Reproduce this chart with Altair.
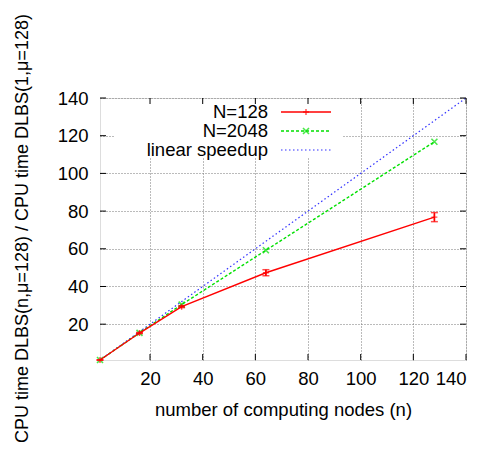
import altair as alt
import pandas as pd

# data
nodes = [1, 16, 32, 64, 128]
speedup_128 = [1, 15.3, 29.3, 47.3, 76.8]
err_128 = [0.0, 0.3, 0.5, 1.6, 2.4]
speedup_2048 = [1, 15.4, 30.4, 59.2, 116.8]
linear_x = [1, 140]
linear_y = [1, 140]
tick_vals = [20, 40, 60, 80, 100, 120, 140]

legend_labels = ["N=128", "N=2048", "linear speedup"]
legend_colors = ["#ff0000", "#00e000", "#3030ff"]

W, H = 366, 262
FONT = "Liberation Sans"
FS = 18.5

df128 = pd.DataFrame({"n": nodes, "s": speedup_128, "lo": [s - e for s, e in zip(speedup_128, err_128)],
                      "hi": [s + e for s, e in zip(speedup_128, err_128)]})
df2048 = pd.DataFrame({"n": nodes, "s": speedup_2048})
dflin = pd.DataFrame({"n": linear_x, "s": linear_y})
dft = pd.DataFrame({"v": tick_vals})

xs = alt.Scale(domain=[1, 140], nice=False, zero=False)
ys = alt.Scale(domain=[1, 140], nice=False, zero=False)

xax = alt.Axis(values=tick_vals, grid=True, gridColor="#777777", gridDash=[1, 2], gridWidth=1,
               tickSize=0, domain=False, labelFont=FONT, labelFontSize=FS, labelColor="black",
               labelPadding=9, title="number of computing nodes (n)", titleFont=FONT,
               titleFontSize=FS, titleFontWeight="normal", titleColor="black",
               titleBaseline="middle", titleY=49, titleX=W / 2)
yax = alt.Axis(values=tick_vals, grid=True, gridColor="#777777", gridDash=[1, 2], gridWidth=1,
               tickSize=0, domain=False, labelFont=FONT, labelFontSize=FS, labelColor="black",
               labelPadding=12, title="CPU time DLBS(n,\u03bc=128) / CPU time DLBS(1,\u03bc=128)",
               titleFont=FONT, titleFontSize=18, titleFontWeight="normal", titleColor="black",
               titleBaseline="middle", titleX=-78, titleY=130, titleAngle=-90)

# legend background (hides grid)
leg_bg = alt.Chart(pd.DataFrame({"a": [0]})).mark_rect(color="white").encode(
    x=alt.value(15), x2=alt.value(242), y=alt.value(1), y2=alt.value(60))

lin = alt.Chart(dflin).mark_line(color=legend_colors[2], strokeDash=[1.5, 2.5], strokeWidth=1.2, clip=True).encode(
    x=alt.X("n:Q", scale=xs, axis=xax), y=alt.Y("s:Q", scale=ys, axis=yax))
l2048 = alt.Chart(df2048).mark_line(color=legend_colors[1], strokeDash=[3, 2], strokeWidth=1.4).encode(
    x=alt.X("n:Q", scale=xs), y=alt.Y("s:Q", scale=ys))
p2048 = alt.Chart(df2048).mark_point(shape="M-1,-1L1,1M-1,1L1,-1", size=36, color=legend_colors[1],
                                     strokeWidth=1.6, filled=False).encode(
    x=alt.X("n:Q", scale=xs), y=alt.Y("s:Q", scale=ys))
l128 = alt.Chart(df128).mark_line(color=legend_colors[0], strokeWidth=1.4).encode(
    x=alt.X("n:Q", scale=xs), y=alt.Y("s:Q", scale=ys))
p128 = alt.Chart(df128).mark_point(shape="M-1,0L1,0M0,-1L0,1", size=36, color=legend_colors[0],
                                   strokeWidth=1.4, filled=False).encode(
    x=alt.X("n:Q", scale=xs), y=alt.Y("s:Q", scale=ys))
eb = alt.Chart(df128).mark_rule(color=legend_colors[0], strokeWidth=1.6).encode(
    x=alt.X("n:Q", scale=xs), y=alt.Y("lo:Q", scale=ys), y2="hi:Q")
ecap_lo = alt.Chart(df128).mark_tick(color=legend_colors[0], orient="horizontal", size=7, thickness=1.5).encode(
    x=alt.X("n:Q", scale=xs), y=alt.Y("lo:Q", scale=ys))
ecap_hi = alt.Chart(df128).mark_tick(color=legend_colors[0], orient="horizontal", size=7, thickness=1.5).encode(
    x=alt.X("n:Q", scale=xs), y=alt.Y("hi:Q", scale=ys))

# inward ticks (mirrored)
tk_bottom = alt.Chart(dft).mark_rule(color="black", strokeWidth=1).encode(
    x=alt.X("v:Q", scale=xs), y=alt.value(H), y2=alt.value(H - 6))
tk_top = alt.Chart(dft).mark_rule(color="black", strokeWidth=1).encode(
    x=alt.X("v:Q", scale=xs), y=alt.value(0), y2=alt.value(6))
tk_left = alt.Chart(dft).mark_rule(color="black", strokeWidth=1).encode(
    y=alt.Y("v:Q", scale=ys), x=alt.value(0), x2=alt.value(6))
tk_right = alt.Chart(dft).mark_rule(color="black", strokeWidth=1).encode(
    y=alt.Y("v:Q", scale=ys), x=alt.value(W), x2=alt.value(W - 6))

# manual legend
leg_rows = [14, 33, 52]
leg_text = alt.layer(*[
    alt.Chart(pd.DataFrame({"t": [lab]})).mark_text(align="right", baseline="middle", font=FONT,
                                                    fontSize=FS, color="black").encode(
        text="t:N", x=alt.value(168), y=alt.value(r))
    for lab, r in zip(legend_labels, leg_rows)])
leg_l1 = alt.Chart(pd.DataFrame({"a": [0]})).mark_rule(color=legend_colors[0], strokeWidth=1.4).encode(
    x=alt.value(181), x2=alt.value(231), y=alt.value(leg_rows[0]))
leg_l2 = alt.Chart(pd.DataFrame({"a": [0]})).mark_rule(color=legend_colors[1], strokeWidth=1.4,
                                                       strokeDash=[3, 2]).encode(
    x=alt.value(181), x2=alt.value(231), y=alt.value(leg_rows[1]))
leg_l3 = alt.Chart(pd.DataFrame({"a": [0]})).mark_rule(color=legend_colors[2], strokeWidth=1.2,
                                                       strokeDash=[1.5, 2.5]).encode(
    x=alt.value(181), x2=alt.value(231), y=alt.value(leg_rows[2]))
leg_p1 = alt.Chart(pd.DataFrame({"a": [0]})).mark_point(shape="M-1,0L1,0M0,-1L0,1", size=36,
                                                        color=legend_colors[0], strokeWidth=1.4).encode(
    x=alt.value(206), y=alt.value(leg_rows[0]))
leg_p2 = alt.Chart(pd.DataFrame({"a": [0]})).mark_point(shape="M-1,-1L1,1M-1,1L1,-1", size=36,
                                                        color=legend_colors[1], strokeWidth=1.6).encode(
    x=alt.value(206), y=alt.value(leg_rows[1]))

chart = alt.layer(
    lin, leg_bg, l2048, p2048, l128, eb, ecap_lo, ecap_hi, p128,
    tk_bottom, tk_top, tk_left, tk_right,
    leg_text, leg_l1, leg_l2, leg_l3, leg_p1, leg_p2,
).properties(
    width=W, height=H,
    autosize=alt.AutoSizeParams(type="none"),
    padding={"left": 92, "top": 90, "right": 14, "bottom": 89},
).configure_view(
    stroke="black", strokeWidth=1.2
).configure(background="white")

chart.save("out.html", embed_options={"renderer": "svg", "actions": False})
